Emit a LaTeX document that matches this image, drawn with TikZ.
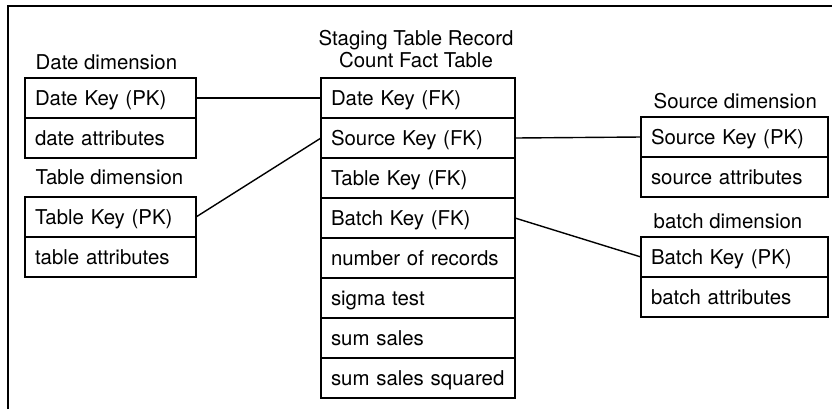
\documentclass[tikz,border=0pt]{standalone}
\usepackage{fontspec}
\setmainfont{TeX Gyre Heros}
\usetikzlibrary{positioning}

\tikzset{
	cell/.style={draw, outer sep=0pt, inner xsep=5pt, inner ysep=0pt,
		minimum height=20pt, text height=7.4pt, text depth=0pt,
		text width=#1, align=left},
	caption/.style={anchor=base west, inner sep=0pt}
}

\begin{document}
\begin{tikzpicture}[x=0.5pt,y=-0.5pt,line width=0.7pt,font=\fontsize{10.2}{11}\selectfont]
	\useasboundingbox (0,0) rectangle (832,409);
	\draw (8,409) -- (8,6) -- (832,6);

	% date dimension
	\node[cell=75.5pt, anchor=north west] (d1) at (25,78) {Date Key (PK)};
	\node[cell=75.5pt, below=0pt of d1] (d2) {date attributes};
	\node[caption] (dcap) at ([shift={(5pt,4.3pt)}]d1.north west) {Date dimension};

	% table dimension
	\node[cell=75.5pt, anchor=north west] (t1) at (25,197) {Table Key (PK)};
	\node[cell=75.5pt, below=0pt of t1] (t2) {table attributes};
	\node[caption] (tcap) at ([shift={(5pt,6.5pt)}]t1.north west) {Table dimension};

	% fact table
	\node[cell=87pt, anchor=north west] (f1) at (321,78) {Date Key (FK)};
	\node[cell=87pt, below=0pt of f1] (f2) {Source Key (FK)};
	\node[cell=87pt, below=0pt of f2] (f3) {Table Key (FK)};
	\node[cell=87pt, below=0pt of f3] (f4) {Batch Key (FK)};
	\node[cell=87pt, below=0pt of f4] (f5) {number of records};
	\node[cell=87pt, below=0pt of f5] (f6) {sigma test};
	\node[cell=87pt, below=0pt of f6] (f7) {sum sales};
	\node[cell=87pt, below=0pt of f7] (f8) {sum sales squared};
	\node[anchor=south, align=center, inner sep=0pt, text depth=0pt] (fcap)
		at ([xshift=-1pt,yshift=5pt]f1.north) {Staging Table Record\\Count Fact Table};

	% source dimension
	\node[cell=83.5pt, anchor=north west] (s1) at (641,117) {Source Key (PK)};
	\node[cell=83.5pt, below=0pt of s1] (s2) {source attributes};
	\node[caption] (scap) at ([shift={(6pt,4.5pt)}]s1.north west) {Source dimension};

	% batch dimension
	\node[cell=83.5pt, anchor=north west] (b1) at (641,237) {Batch Key (PK)};
	\node[cell=83.5pt, below=0pt of b1] (b2) {batch attributes};
	\node[caption] (bcap) at ([shift={(6pt,4.2pt)}]b1.north west) {batch dimension};

	% keys
	\draw (d1.east) -- (f1.west);
	\draw (t1.east) -- (f2.west);
	\draw (f2.east) -- (s1.west);
	\draw (f4.east) -- (b1.west);
\end{tikzpicture}
\end{document}
